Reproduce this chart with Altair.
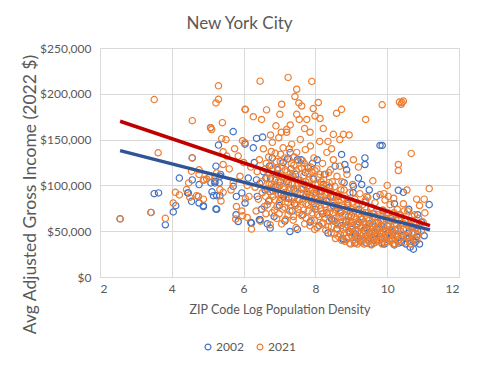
import altair as alt
import pandas as pd

# ---- data (x = ZIP code log population density, y = avg AGI in thousands of 2022 $) ----
x_2002 = [2.56, 3.42, 3.51, 3.63, 3.82, 4.04, 4.11, 4.21, 4.44, 4.55, 4.57, 4.57, 4.76, 4.76, 4.88,
          5.09, 5.2, 5.32, 5.16, 5.25, 5.34, 5.23, 5.08, 5.3, 5.23, 5.36, 5.12, 4.46, 4.74, 4.88,
          5.25, 5.2, 5.34, 5.71, 5.8, 5.95, 6.04, 6.2, 6.44, 6.13, 6.36, 5.71, 6.36, 6.53, 6.27,
          6.04, 6.22, 6.46, 6.74, 7.29, 5.79, 5.85,
          6.3, 6.38, 6.45, 6.5, 6.55, 6.6, 6.66, 6.7, 6.75, 6.8, 6.85, 6.9, 6.95, 7.0, 7.05, 7.1,
          7.15, 7.2, 7.25, 7.3, 7.35, 7.4, 7.45, 7.5, 7.55, 7.6, 7.65, 7.7, 7.75, 7.8, 7.85, 7.9,
          7.95, 8.0, 8.05, 8.1, 8.15, 8.2, 8.25, 8.3, 8.35, 8.4, 8.45, 8.5, 8.55, 8.6, 8.65, 8.7,
          8.75, 8.8, 8.85, 8.9, 8.95, 9.0, 9.05, 9.1, 9.15, 9.2, 9.25, 9.3, 9.35, 9.4, 9.45, 9.5,
          9.55, 9.6, 9.65, 9.7, 9.75, 9.8, 9.85, 9.9, 9.95, 10.0, 10.05, 10.1, 10.15, 10.2, 10.25,
          10.3, 10.35, 10.4, 10.45, 10.5, 10.55, 10.6, 10.7, 10.78, 10.85,
          8.73, 9.38, 9.38, 9.8, 8.82, 8.87, 9.06, 9.29, 8.78, 9.1, 9.43, 9.86, 11.17, 10.31, 10.45,
          11.03, 10.73, 10.64, 7.5, 7.3]
y_2002 = [63.5, 70.5, 91, 91.8, 57, 71, 77.9, 108, 91.8, 82.6, 106, 130, 80.8, 100.9, 77.9,
          102.7, 104.5, 102.7, 88.8, 88.8, 88.8, 74.2, 163, 144, 121, 112, 93, 91.8, 88, 77,
          74, 102.7, 110, 99, 88, 91.8, 80.8, 59.5, 62.5, 108, 106, 158.7, 151.3, 152.7, 141,
          145, 58.9, 62.5, 53.4, 49.7, 68, 60.6,
          125, 88, 102, 74, 115, 95, 58, 83, 108, 130, 66, 99, 117, 78, 90, 125,
          61, 104, 86, 136, 72, 96, 112, 52, 84, 128, 68, 101, 90, 119, 60, 82,
          107, 74, 128, 56, 93, 69, 112, 83, 48, 98, 63, 78, 121, 53, 88, 70,
          42, 103, 60, 80, 49, 67, 92, 44, 57, 74, 39, 63, 51, 82, 45, 58,
          36, 69, 48, 41, 60, 53, 37, 72, 46, 56, 40, 64, 49, 35, 58,
          44, 68, 38, 52, 61, 42, 48, 55, 38, 50,
          133.8, 130, 122.8, 143.6, 122.8, 117, 99, 101, 40.6, 37, 37, 143.6, 79, 94.6, 92.4,
          45, 30.4, 32.6, 128, 108]
x_2002_dense = [6.62, 6.72, 6.82, 6.92, 7.02, 7.12, 7.22, 7.32, 7.42, 7.52, 7.62, 7.72, 7.82, 7.92,
                8.02, 8.12, 8.22, 8.32, 8.42, 8.52, 8.62, 8.72, 8.92, 9.02, 9.12, 9.22, 9.32, 9.42,
                9.52, 9.62, 9.72, 9.82, 9.92, 10.02, 10.12, 10.22, 10.32, 10.42, 10.52, 10.62,
                10.72, 10.82, 10.9, 10.95, 10.85, 10.6, 10.2, 9.7, 9.5, 9.2]
y_2002_dense = [108, 121, 94, 112, 104, 88, 129, 118, 80, 106, 96, 114, 100, 124,
                92, 84, 101, 70, 88, 61, 75, 56, 66, 52, 47, 60, 42, 54,
                47, 40, 52, 44, 36, 48, 42, 51, 37, 45, 36, 43,
                40, 44, 36, 60, 68, 74, 80, 88, 95, 108]

x_2021 = [2.56, 3.42, 3.51, 3.62, 3.82, 4.04, 4.10, 4.21, 4.57, 4.57, 4.55, 4.5, 4.74, 4.88, 4.76,
          4.76, 4.9, 5.06, 5.2, 5.37, 5.08, 5.11, 5.3, 5.3, 5.23, 5.41, 5.39, 5.51, 5.43, 5.53,
          5.43, 4.47, 4.41, 4.69, 4.88, 4.97, 5.34, 5.43, 5.25, 5.71, 5.8, 5.78, 5.97, 6.22, 6.05,
          6.05, 5.97, 6.04,
          5.6, 5.65, 5.75, 5.9, 6.0, 6.1, 6.15, 5.85, 6.2, 5.95, 6.1,
          6.46, 7.24, 7.48, 7.43, 7.54, 7.62, 7.06, 7.01, 6.64, 6.5, 6.27, 6.04, 7.55, 7.48, 7.2,
          7.9, 8.08, 7.94, 8.13, 7.99, 7.76, 8.73, 8.59, 9.4, 8.78, 8.94, 8.68, 8.5, 8.22, 9.06,
          9.43, 9.86, 10.34, 10.41, 10.45, 10.39, 10.67, 10.31, 10.31, 11.17, 10.82, 11.03, 9.91,
          10.03, 10.76,
          6.9, 7.05, 7.3, 7.7, 7.85, 6.75, 8.35, 8.45, 9.2, 9.6, 10.0, 10.55, 10.9, 11.05, 11.0, 10.95,
          6.32, 6.35, 6.38, 6.41, 6.44, 6.47, 6.5, 6.52, 6.55, 6.58, 6.6, 6.62, 6.65, 6.67, 6.7,
          6.72, 6.74, 6.76, 6.78, 6.8,
          6.82, 6.84, 6.86, 6.88, 6.9, 6.92, 6.94, 6.96, 6.98, 7.0, 7.02, 7.04, 7.06, 7.08, 7.1,
          7.12, 7.14, 7.16, 7.18, 7.2, 7.22, 7.24, 7.26, 7.28,
          7.3, 7.32, 7.34, 7.36, 7.38, 7.4, 7.42, 7.44, 7.46, 7.48, 7.5, 7.52, 7.54, 7.56, 7.58,
          7.6, 7.62, 7.64, 7.66, 7.68, 7.7, 7.72, 7.74, 7.76,
          7.78, 7.8, 7.82, 7.84, 7.86, 7.88, 7.9, 7.92, 7.94, 7.96, 7.98, 8.0, 8.02, 8.04, 8.06,
          8.08, 8.1, 8.12, 8.14, 8.16, 8.18, 8.2, 8.22, 8.24, 8.26, 8.28,
          8.3, 8.32, 8.34, 8.36, 8.38, 8.4, 8.42, 8.44, 8.46, 8.48, 8.5, 8.52, 8.54, 8.56, 8.58,
          8.6, 8.62, 8.64, 8.66, 8.68, 8.7, 8.72, 8.74, 8.76, 8.78,
          8.8, 8.82, 8.84, 8.86, 8.88, 8.9, 8.92, 8.94, 8.96, 8.98, 9.0, 9.02, 9.04, 9.06, 9.08,
          9.1, 9.12, 9.14, 9.16, 9.18, 9.2, 9.22, 9.24, 9.26, 9.28,
          9.3, 9.32, 9.34, 9.36, 9.38, 9.4, 9.42, 9.44, 9.46, 9.48, 9.5, 9.52, 9.54, 9.56, 9.58,
          9.6, 9.62, 9.64, 9.66, 9.68, 9.7, 9.72, 9.74, 9.76, 9.78,
          9.8, 9.82, 9.84, 9.86, 9.88, 9.9, 9.92, 9.94, 9.96, 9.98, 10.0, 10.02, 10.04, 10.06, 10.08,
          10.1, 10.12, 10.14, 10.16, 10.18, 10.2, 10.22, 10.24, 10.26, 10.28,
          10.3, 10.33, 10.36, 10.39, 10.42, 10.45, 10.48, 10.51, 10.54, 10.57, 10.6, 10.63, 10.66,
          10.69, 10.72, 10.75, 10.78, 10.82, 10.85, 10.88]
y_2021 = [63.5, 70.5, 193.7, 135.6, 64, 80.8, 92.4, 89.6, 170.7, 130, 115.5, 87, 88, 85, 117,
          112, 106, 110, 109, 83, 163, 161, 208.7, 194, 190, 168.5, 151, 150, 136.7, 132,
          122.8, 102.7, 95.4, 88.8, 105.6, 107, 95.4, 92.4, 113.7, 102.7, 77, 63.3, 66.9, 52.3, 85.5,
          182.8, 148.8, 146.6,
          118, 95, 140, 110, 125, 100, 88, 132, 120, 72, 65,
          213.8, 217.9, 205, 197, 190, 186.7, 188.6, 177.6, 182.4, 172, 175, 183, 172, 177.6, 161,
          213.5, 190.5, 183.9, 173, 175.8, 172, 183, 178.7, 172, 155.7, 155, 150, 155.7, 162, 128,
          88, 188, 191, 190.5, 192, 188.6, 134.9, 122.8, 116.2, 96.5, 85, 85, 91,
          88, 68,
          165, 158, 166, 162, 158, 155, 148, 140, 120, 105, 100, 95, 78, 70, 60, 50,
          98, 72, 115, 85, 128, 61, 104, 92, 140, 77, 118, 69, 108, 96, 131,
          84, 57, 122, 101, 147,
          88, 112, 73, 135, 95, 64, 119, 104, 152, 82, 126, 91, 58, 110, 141,
          99, 76, 117, 86, 158, 106, 68, 129, 94,
          113, 79, 145, 101, 62, 122, 88, 107, 54, 136, 96, 74, 118, 84, 150,
          103, 67, 127, 91, 111, 58, 139, 80, 98,
          121, 72, 106, 89, 143, 62, 115, 95, 78, 130, 52, 101, 86, 118, 68,
          109, 93, 148, 75, 104, 58, 124, 84, 97, 65, 112,
          79, 136, 92, 55, 103, 71, 117, 48, 88, 62, 128, 81, 99, 42, 73,
          110, 57, 90, 66, 121, 46, 84, 104, 60, 76,
          95, 39, 68, 53, 112, 82, 44, 61, 92, 36, 74, 56, 101, 47, 66,
          85, 38, 58, 77, 50, 43, 69, 91, 54, 40,
          63, 79, 47, 36, 58, 70, 44, 52, 87, 39, 62, 48, 75, 35, 56,
          66, 42, 50, 81, 38, 59, 45, 68, 53, 40,
          90, 61, 47, 36, 73, 55, 42, 84, 64, 50, 38, 70, 58, 45, 79,
          52, 40, 66, 48, 86, 57, 36, 62, 44, 74,
          53, 41, 68, 58, 47, 80, 38, 63, 52, 72, 44, 57, 36,
          66, 49, 60, 42, 54, 46, 64]
x_2021_dense = [6.61, 6.63, 6.66, 6.69, 6.71, 6.73, 6.77, 6.79, 6.81, 6.83, 6.87, 6.89, 6.91, 6.93,
                6.95, 6.97, 6.99, 7.01, 7.03, 7.05, 7.07, 7.09, 7.11, 7.13, 7.15, 7.17, 7.19, 7.21,
                7.23, 7.25, 7.27, 7.29, 7.31, 7.33, 7.35, 7.37, 7.39, 7.41, 7.43, 7.45, 7.47, 7.49,
                7.51, 7.53, 7.55, 7.57, 7.59,
                7.61, 7.63, 7.65, 7.67, 7.69, 7.71, 7.73, 7.75, 7.77, 7.79, 7.81, 7.83, 7.85, 7.87,
                7.89, 7.91, 7.93, 7.95, 7.97, 7.99, 8.01, 8.03, 8.05, 8.07, 8.09, 8.11, 8.13, 8.15,
                8.17, 8.19, 8.21, 8.23, 8.25, 8.27, 8.29, 8.31, 8.33, 8.35, 8.37, 8.39, 8.41, 8.43,
                8.45, 8.47, 8.49, 8.51, 8.53, 8.55, 8.57, 8.59,
                8.61, 8.63, 8.65, 8.67, 8.69, 8.71, 8.73, 8.75, 8.77, 8.79, 8.81, 8.83, 8.85, 8.87,
                8.89, 8.91, 8.93, 8.95, 8.97, 8.99, 9.01, 9.03, 9.05, 9.07, 9.09, 9.11, 9.13, 9.15,
                9.17, 9.19, 9.21, 9.23, 9.25, 9.27, 9.29, 9.31, 9.33, 9.35, 9.37, 9.39, 9.41, 9.43,
                9.45, 9.47, 9.49, 9.51, 9.53, 9.55, 9.57, 9.59,
                9.61, 9.63, 9.67, 9.69, 9.71, 9.73, 9.77, 9.79, 9.81, 9.83, 9.87, 9.89, 9.93, 9.97,
                10.01, 10.03, 10.07, 10.09, 10.13, 10.17, 10.19, 10.23, 10.27, 10.29, 10.32, 10.37,
                10.41, 10.44, 10.47, 10.53, 10.58, 10.62, 10.67, 10.71, 10.77, 10.83]
y_2021_dense = [88, 124, 79, 113, 101, 93, 137, 70, 118, 99, 84, 107, 126, 77,
                91, 112, 69, 100, 134, 86, 121, 74, 96, 108, 130, 63, 92, 115,
                81, 102, 140, 72, 97, 124, 87, 110, 66, 131, 93, 78, 116, 100,
                85, 127, 70, 105, 91,
                119, 82, 98, 73, 124, 88, 104, 64, 93, 113, 79, 97, 56, 120,
                86, 70, 108, 91, 62, 116, 77, 95, 54, 101, 83, 66, 112, 88,
                72, 97, 59, 106, 79, 90, 51, 100, 68, 85, 114, 61, 93, 75,
                55, 104, 70, 87, 47, 64, 92, 78,
                52, 83, 44, 71, 59, 95, 40, 67, 52, 86, 48, 74, 62, 42,
                57, 78, 50, 37, 65, 54, 45, 82, 60, 40, 72, 51, 63, 44,
                36, 58, 79, 47, 65, 38, 55, 71, 42, 60, 50, 84, 37, 64,
                46, 57, 41, 68, 53, 44, 76, 49,
                58, 37, 65, 46, 54, 39, 72, 48, 56, 41, 63, 50, 38, 69,
                45, 55, 40, 62, 51, 36, 70, 47, 57, 39, 64, 50,
                43, 59, 72, 45, 56, 39, 61, 47, 53, 40]

# trend line end points
trend_x = [2.56, 11.19]
trend_2002 = [138, 51.5]
trend_2021 = [170, 56]

series_names = ["2002", "2021"]
point_colors = ["#4472C4", "#ED7D31"]

xa = x_2002 + x_2002_dense
ya = y_2002 + y_2002_dense
xb = x_2021 + x_2021_dense
yb = y_2021 + y_2021_dense
pts = pd.DataFrame({
    "series": ["2002"] * len(xa) + ["2021"] * len(xb),
    "x": xa + xb,
    "y": [v * 1000 for v in ya + yb],
})
trend = pd.DataFrame({
    "series": ["2002"] * 2 + ["2021"] * 2,
    "x": trend_x + trend_x,
    "y": [v * 1000 for v in trend_2002 + trend_2021],
})

FONT = "Lato"
GRAY = "#595959"

xscale = alt.Scale(domain=[2, 12], nice=False, zero=False)
yscale = alt.Scale(domain=[0, 250000], nice=False)

xaxis = alt.Axis(values=[2, 4, 6, 8, 10, 12], title="ZIP Code Log Population Density",
                 domain=False, ticks=False, labelPadding=6, titlePadding=9,
                 labelFontSize=12, titleFontSize=12.5, titleFontWeight="normal",
                 labelColor=GRAY, titleColor=GRAY, labelFont=FONT, titleFont=FONT,
                 gridColor="#D9D9D9")
yaxis = alt.Axis(values=[0, 50000, 100000, 150000, 200000, 250000], format="$,.0f",
                 title="Avg Adjusted Gross Income (2022 $)",
                 domain=False, ticks=False, labelPadding=9,
                 labelFontSize=12, titleFontSize=17.5, titleFontWeight="normal",
                 labelColor=GRAY, titleColor=GRAY, labelFont=FONT, titleFont=FONT,
                 titleX=-70, titleY=146, titleBaseline="middle",
                 gridColor="#D9D9D9")

points = alt.Chart(pts).mark_point(shape="circle", filled=False, size=40, strokeWidth=1.2,
                                   opacity=1).encode(
    x=alt.X("x:Q", scale=xscale, axis=xaxis),
    y=alt.Y("y:Q", scale=yscale, axis=yaxis),
    color=alt.Color("series:N", scale=alt.Scale(domain=series_names, range=point_colors),
                    legend=alt.Legend(orient="none", legendX=102, legendY=293, direction="horizontal",
                                      title=None, symbolType="circle", symbolSize=35,
                                      symbolStrokeWidth=1.2, symbolFillColor="transparent",
                                      labelFont=FONT, labelFontSize=12, labelColor=GRAY,
                                      columnPadding=10, labelOffset=2)),
    order=alt.Order("series:N"),
)

line02 = alt.Chart(trend[trend.series == "2002"]).mark_line(color="#2F5597", strokeWidth=3.5).encode(
    x=alt.X("x:Q", scale=xscale), y=alt.Y("y:Q", scale=yscale))
line21 = alt.Chart(trend[trend.series == "2021"]).mark_line(color="#C00000", strokeWidth=3.5).encode(
    x=alt.X("x:Q", scale=xscale), y=alt.Y("y:Q", scale=yscale))

chart = alt.layer(points, line02, line21).properties(
    width=359, height=229,
    title=alt.Title("New York City", font=FONT, fontSize=17, fontWeight="normal", color=GRAY,
                    anchor="middle", dx=-40, offset=9),
    padding={"left": 92, "top": 40, "right": 12, "bottom": 82},
    autosize=alt.AutoSizeParams(type="none"),
).configure_view(stroke=None).configure(background="white")

chart.save("out.html", embed_options={"renderer": "svg", "actions": False})
